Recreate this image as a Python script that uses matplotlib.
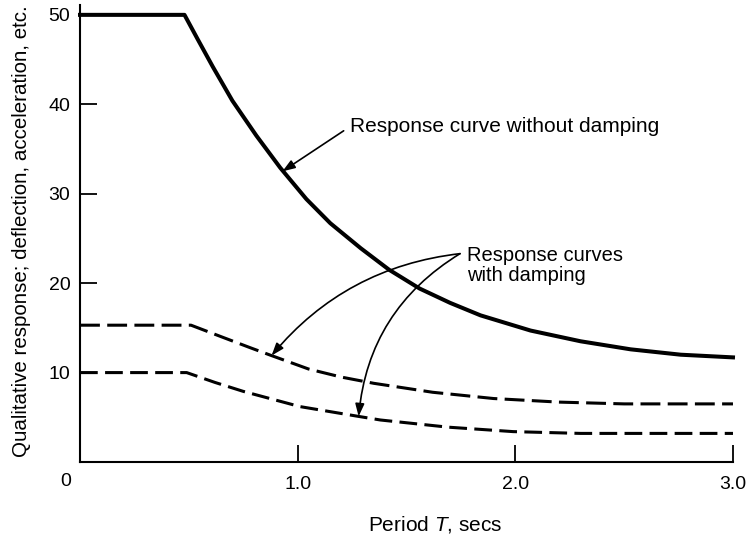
import matplotlib
matplotlib.use("Agg")
import matplotlib.pyplot as plt

plt.rcParams['font.family'] = ['Liberation Sans', 'DejaVu Sans']
plt.rcParams['mathtext.fontset'] = 'custom'
plt.rcParams['mathtext.it'] = 'Liberation Sans:italic'
plt.rcParams['mathtext.rm'] = 'Liberation Sans'

# values
t_undamped = [0, 0.48, 0.54, 0.61, 0.70, 0.81, 0.92, 1.04, 1.15, 1.29, 1.42, 1.56,
              1.70, 1.84, 2.07, 2.30, 2.53, 2.76, 3.0]
r_undamped = [50, 50, 47.3, 44.2, 40.4, 36.5, 32.9, 29.4, 26.7, 23.9, 21.5, 19.4,
              17.8, 16.4, 14.7, 13.5, 12.6, 12.0, 11.7]

t_damp_hi = [0, 0.51, 0.65, 0.78, 0.88, 1.05, 1.20, 1.35, 1.62, 1.90, 2.20, 2.50, 3.0]
r_damp_hi = [15.3, 15.3, 14.0, 12.8, 11.9, 10.4, 9.5, 8.8, 7.8, 7.1, 6.7, 6.5, 6.5]

t_damp_lo = [0, 0.49, 0.62, 0.75, 1.01, 1.28, 1.38, 1.69, 1.99, 2.30, 3.0]
r_damp_lo = [10, 10, 8.9, 7.9, 6.2, 5.1, 4.7, 3.9, 3.4, 3.2, 3.2]

x_ticks = [1.0, 2.0, 3.0]
x_ticklabels = ['1.0', '2.0', '3.0']
y_ticks = [10, 20, 30, 40, 50]

fig = plt.figure(figsize=(7.5, 5.4), dpi=100)
ax = fig.add_axes([0.1067, 0.1444, 0.8706, 0.8463])

ax.plot(t_undamped, r_undamped, color='black', lw=2.9, clip_on=False,
        solid_joinstyle='round')
hi, = ax.plot(t_damp_hi, r_damp_hi, color='black', lw=2.2, clip_on=False)
hi.set_dashes((6.5, 2.4))
lo, = ax.plot(t_damp_lo, r_damp_lo, color='black', lw=2.2, clip_on=False)
lo.set_dashes((5.8, 2.4))

ax.set_xlim(0, 3.0)
ax.set_ylim(0, 51.1)
ax.spines['top'].set_visible(False)
ax.spines['right'].set_visible(False)
for s in ('left', 'bottom'):
    ax.spines[s].set_linewidth(1.5)

ax.set_xticks(x_ticks)
ax.set_xticklabels(x_ticklabels)
ax.set_yticks(y_ticks)
ax.tick_params(direction='in', length=12, width=1.3, labelsize=14)
ax.tick_params(axis='x', pad=10)
ax.tick_params(axis='y', pad=7)

ax.annotate('0', xy=(0, 0), xytext=(-10, -14), textcoords='offset points',
            ha='center', va='center', fontsize=14)

ax.set_xlabel('Period $T$, secs', fontsize=15)
ax.xaxis.set_label_coords(0.544, -0.113)
ax.set_ylabel('Qualitative response; deflection, acceleration, etc.', fontsize=14.8)
ax.yaxis.set_label_coords(-0.075, 0.505)

ax.annotate('Response curve without damping', xy=(0.93, 32.5), xytext=(1.24, 37.5),
            ha='left', va='center', fontsize=15,
            arrowprops=dict(arrowstyle='-|>,head_length=0.5,head_width=0.18',
                            color='black', lw=1.2, relpos=(0, 0.5),
                            shrinkA=3, shrinkB=0))

ax.text(1.78, 22.0, 'Response curves\nwith damping', ha='left', va='center',
        fontsize=14.5, linespacing=1.05)
ax.annotate('', xy=(0.88, 11.9), xytext=(1.746, 23.3),
            arrowprops=dict(arrowstyle='-|>,head_length=0.5,head_width=0.18',
                            color='black', lw=1.2, shrinkA=0, shrinkB=0,
                            connectionstyle='arc3,rad=0.2'), fontsize=15)
ax.annotate('', xy=(1.28, 5.1), xytext=(1.746, 23.3),
            arrowprops=dict(arrowstyle='-|>,head_length=0.5,head_width=0.18',
                            color='black', lw=1.2, shrinkA=0, shrinkB=0,
                            connectionstyle='arc3,rad=0.25'), fontsize=15)

fig.savefig('out.png', dpi=100)
